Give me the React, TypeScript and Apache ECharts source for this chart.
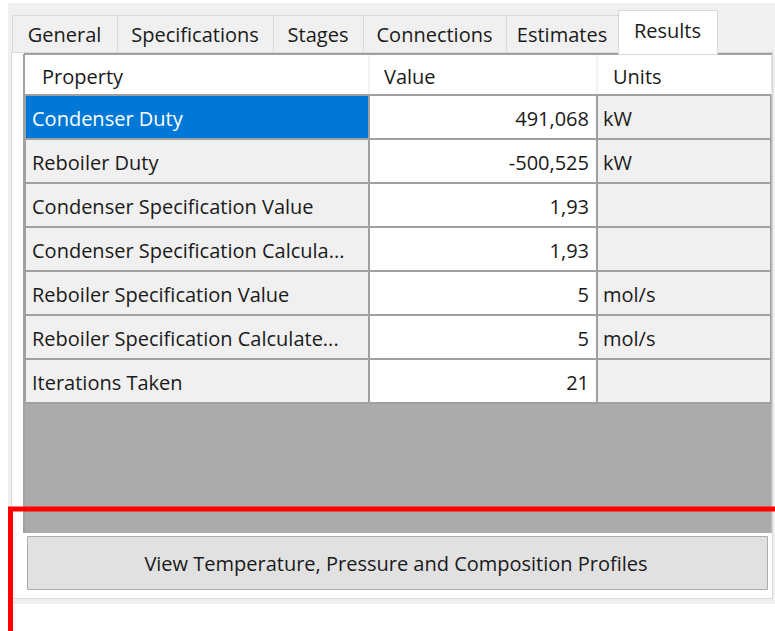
import React, { useEffect, useRef } from "react";
import * as echarts from "echarts";

const tabs = ["General", "Specifications", "Stages", "Connections", "Estimates", "Results"];
const tabEdges = [12, 117, 273, 363, 506, 618, 717];
const headers = ["Property", "Value", "Units"];
const properties = [
  "Condenser Duty",
  "Reboiler Duty",
  "Condenser Specification Value",
  "Condenser Specification Calcula...",
  "Reboiler Specification Value",
  "Reboiler Specification Calculate...",
  "Iterations Taken",
];
const values = ["491,068", "-500,525", "1,93", "1,93", "5", "5", "21"];
const units = ["kW", "kW", "", "", "mol/s", "mol/s", ""];
const buttonLabel = "View Temperature, Pressure and Composition Profiles";

const FONT = "'Open Sans', 'Noto Sans', sans-serif";
const FS = 20;
const TXT = "#1a1a1a";

export default function App() {
  const ref = useRef<HTMLDivElement>(null);
  useEffect(() => {
    const chart = echarts.init(ref.current!, null, { renderer: "svg" });
    const els: any[] = [];
    // form background
    els.push({ type: "rect", shape: { x: 8, y: 3, width: 767, height: 601 }, style: { fill: "#f0f0f0" } });
    // tab page
    els.push({ type: "rect", shape: { x: 11.5, y: 52.5, width: 761, height: 546 }, style: { fill: "#ffffff", stroke: "#d9d9d9", lineWidth: 1 } });
    // tabs
    tabs.forEach((t, i) => {
      const x0 = tabEdges[i];
      const x1 = tabEdges[i + 1];
      const sel = i === tabs.length - 1;
      const top = sel ? 10 : 15;
      els.push({
        type: "rect",
        shape: { x: x0 + 0.5, y: top + 0.5, width: x1 - x0, height: 53 - top + (sel ? 1 : -1) },
        style: { fill: sel ? "#ffffff" : "#f0f0f0", stroke: "#d9d9d9", lineWidth: 1 },
        z: sel ? 3 : 2,
      });
      if (sel) {
        els.push({ type: "rect", shape: { x: x0 + 1, y: 50, width: x1 - x0 - 1, height: 4 }, style: { fill: "#ffffff" }, z: 4 });
      }
      els.push({
        type: "text",
        x: (x0 + x1) / 2,
        y: sel ? 30 : 34,
        z: 5,
        style: { text: t, fontFamily: FONT, fontSize: FS, fill: TXT, align: "center", verticalAlign: "middle" },
      });
    });
    // table geometry
    const L = 25, C1 = 369, C2 = 597, R = 771;
    const HT = 55, HB = 95, RH = 44;
    // header
    els.push({ type: "rect", shape: { x: L, y: HT, width: R - L, height: HB - HT }, style: { fill: "#ffffff" } });
    const hx = [L + 17, C1 + 15, C2 + 16];
    headers.forEach((h, i) => {
      els.push({ type: "text", x: hx[i], y: (HT + HB) / 2 + 1, style: { text: h, fontFamily: FONT, fontSize: FS, fill: TXT, align: "left", verticalAlign: "middle" } });
    });
    [C1, C2].forEach((x) => {
      els.push({ type: "line", shape: { x1: x, y1: HT, x2: x, y2: HB }, style: { stroke: "#e5e5e5", lineWidth: 1 } });
    });
    // rows
    properties.forEach((p, i) => {
      const y0 = HB + 1 + i * RH;
      const sel = i === 0;
      els.push({ type: "rect", shape: { x: L, y: y0, width: C1 - L, height: RH }, style: { fill: sel ? "#0078d7" : "#f0f0f0" } });
      els.push({ type: "rect", shape: { x: C1, y: y0, width: C2 - C1, height: RH }, style: { fill: "#ffffff" } });
      els.push({ type: "rect", shape: { x: C2, y: y0, width: R - C2, height: RH }, style: { fill: "#f0f0f0" } });
      const cy = y0 + RH / 2;
      els.push({ type: "text", x: L + 7, y: cy, z: 3, style: { text: p, fontFamily: FONT, fontSize: FS, fill: sel ? "#ffffff" : TXT, align: "left", verticalAlign: "middle" } });
      els.push({ type: "text", x: C2 - 8, y: cy, z: 3, style: { text: values[i], fontFamily: FONT, fontSize: FS, fill: TXT, align: "right", verticalAlign: "middle" } });
      if (units[i]) {
        els.push({ type: "text", x: C2 + 6, y: cy, z: 3, style: { text: units[i], fontFamily: FONT, fontSize: FS, fill: TXT, align: "left", verticalAlign: "middle" } });
      }
    });
    const tableBottom = HB + 1 + properties.length * RH;
    // grey empty area
    els.push({ type: "rect", shape: { x: L, y: tableBottom, width: R - L + 1, height: 533 - tableBottom }, style: { fill: "#ababab" } });
    // grid lines
    for (let i = 0; i <= properties.length; i++) {
      const y = HB + i * RH;
      els.push({ type: "line", z: 2, shape: { x1: L, y1: y, x2: R, y2: y }, style: { stroke: "#a0a0a0", lineWidth: 2 } });
    }
    [L, C1, C2, R].forEach((x) => {
      els.push({ type: "line", z: 2, shape: { x1: x, y1: HB, x2: x, y2: tableBottom }, style: { stroke: "#a0a0a0", lineWidth: 2 } });
    });
    // outer table border
    els.push({ type: "line", z: 2, shape: { x1: L - 1, y1: HT - 1, x2: R + 1, y2: HT - 1 }, style: { stroke: "#a0a0a0", lineWidth: 2 } });
    els.push({ type: "line", z: 2, shape: { x1: L - 1, y1: HT - 1, x2: L - 1, y2: 533 }, style: { stroke: "#a0a0a0", lineWidth: 2 } });
    els.push({ type: "line", z: 2, shape: { x1: R + 1, y1: HT - 1, x2: R + 1, y2: 533 }, style: { stroke: "#d0d0d0", lineWidth: 1 } });
    // button
    els.push({ type: "rect", shape: { x: 27.5, y: 536.5, width: 740, height: 53 }, style: { fill: "#e1e1e1", stroke: "#adadad", lineWidth: 1 } });
    els.push({ type: "text", x: 396, y: 563, style: { text: buttonLabel, fontFamily: FONT, fontSize: FS, fill: TXT, align: "center", verticalAlign: "middle" } });
    // red annotation
    els.push({ type: "polyline", z: 10, shape: { points: [[775, 509], [10.5, 509], [10.5, 631]] }, style: { stroke: "#ff0000", lineWidth: 5, fill: "none" } });

    chart.setOption({ animation: false, graphic: { elements: els } });
    return () => chart.dispose();
  }, []);
  return <div ref={ref} style={{ position: "fixed", left: 0, top: 0, width: 775, height: 631, background: "#ffffff" }} />;
}
